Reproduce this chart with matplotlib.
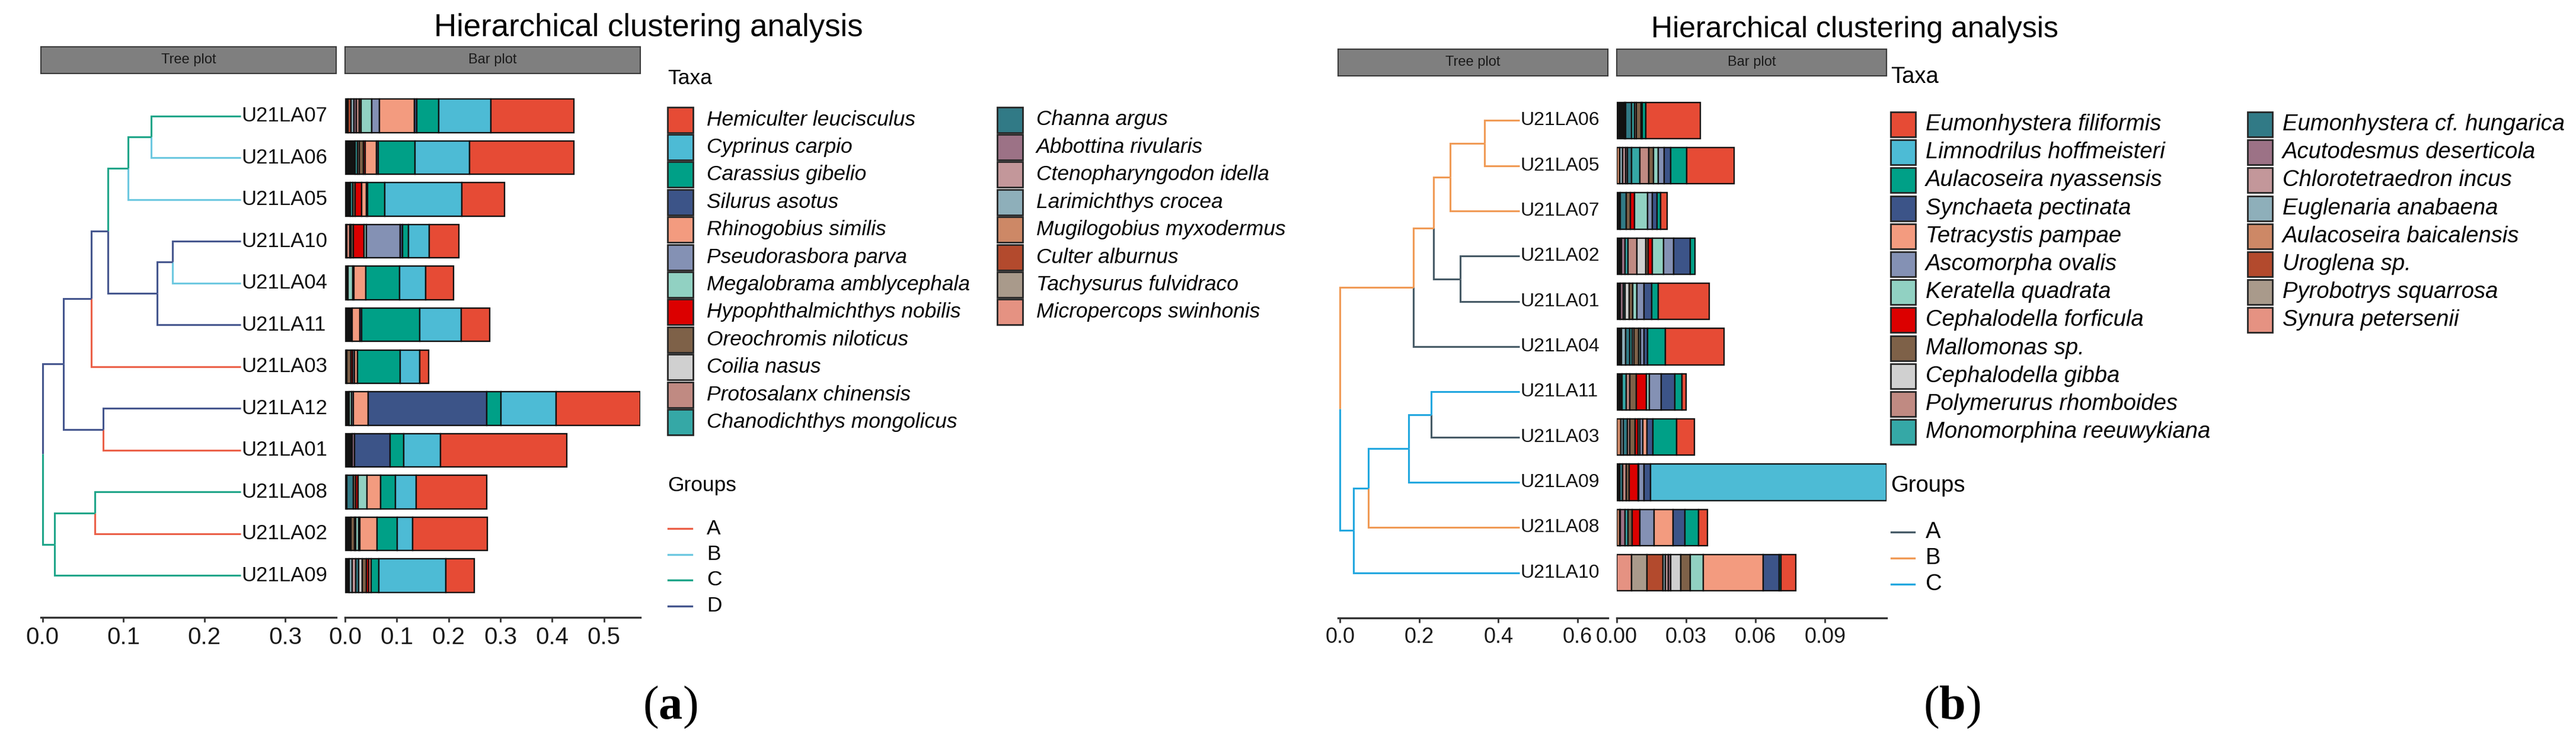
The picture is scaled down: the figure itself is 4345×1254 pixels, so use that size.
"""Hierarchical clustering tree + stacked composition bars, two panels side by side."""

import matplotlib
matplotlib.use("Agg")
import matplotlib.pyplot as plt
from matplotlib.patches import Rectangle
from matplotlib.lines import Line2D
from matplotlib.ticker import FormatStrFormatter

W, H = 4345, 1254
plt.rcParams["font.family"] = ["Liberation Sans", "DejaVu Sans"]
plt.rcParams["mathtext.fontset"] = "custom"
plt.rcParams["mathtext.rm"] = "Liberation Serif"
plt.rcParams["mathtext.bf"] = "Liberation Serif:bold"

# shared fill palette, same order as each panel's legend
palette = ["#E64B35", "#4DBBD5", "#00A087", "#3C5488", "#F39B7F", "#8491B4", "#91D1C2",
           "#DC0000", "#7E6148", "#D0D0D0", "#C08A82", "#35A8A6", "#317A86", "#9C7286",
           "#C3979A", "#8EAFBA", "#CD8866", "#B34A2D", "#A99A8B", "#E59282"]
others_color = "#121212"

# ---------------- panel (a): fish ----------------
a_taxa = ["Hemiculter leucisculus", "Cyprinus carpio", "Carassius gibelio", "Silurus asotus",
          "Rhinogobius similis", "Pseudorasbora parva", "Megalobrama amblycephala",
          "Hypophthalmichthys nobilis", "Oreochromis niloticus", "Coilia nasus",
          "Protosalanx chinensis", "Chanodichthys mongolicus", "Channa argus",
          "Abbottina rivularis", "Ctenopharyngodon idella", "Larimichthys crocea",
          "Mugilogobius myxodermus", "Culter alburnus", "Tachysurus fulvidraco",
          "Micropercops swinhonis"]
a_samples = ["U21LA07", "U21LA06", "U21LA05", "U21LA10", "U21LA04", "U21LA11",
             "U21LA03", "U21LA12", "U21LA01", "U21LA08", "U21LA02", "U21LA09"]
a_groups = ["C", "B", "B", "D", "B", "D", "A", "D", "A", "C", "A", "C"]
a_group_names = ["A", "B", "C", "D"]
a_group_colors = ["#EB6048", "#6DC8E0", "#1FA589", "#45568E"]
# one row per sample: 20 taxa in legend order, then the remaining (others) share
a_abund = [
    [.160, .101, .043, .004, .068, .015, .020, 0, .004, 0, .005, 0, 0, .005, 0, .005, 0, .006, 0, 0, .006],
    [.202, .105, .071, .003, .022, 0, 0, .004, .007, 0, .004, .004, 0, 0, 0, 0, 0, 0, 0, 0, .020],
    [.083, .148, .034, .002, .009, 0, 0, .013, .004, 0, 0, .005, 0, 0, 0, 0, 0, 0, 0, 0, .010],
    [.058, .040, .011, .004, 0, .066, .004, .021, .004, 0, 0, 0, 0, 0, 0, 0, 0, .003, 0, .006, .003],
    [.054, .051, .065, 0, .023, .002, .009, 0, 0, 0, 0, 0, 0, 0, 0, 0, 0, 0, 0, 0, .006],
    [.055, .080, .112, .003, .015, 0, 0, 0, 0, 0, 0, 0, 0, 0, 0, 0, 0, 0, 0, 0, .014],
    [.017, .038, .082, 0, .006, .003, 0, .003, .009, 0, 0, 0, 0, 0, 0, 0, 0, 0, 0, 0, .003],
    [.163, .106, .027, .229, .029, .003, .005, 0, 0, 0, 0, 0, 0, 0, 0, 0, 0, 0, 0, 0, .008],
    [.244, .071, .026, .069, 0, 0, 0, 0, 0, 0, 0, 0, 0, .004, 0, 0, 0, 0, 0, 0, .014],
    [.136, .040, .028, 0, .027, 0, .017, .004, .005, 0, 0, 0, .012, 0, 0, 0, 0, 0, 0, 0, .004],
    [.145, .029, .039, 0, .033, .003, .005, .003, .006, 0, 0, 0, 0, 0, 0, 0, 0, 0, 0, 0, .012],
    [.054, .130, .015, 0, .004, 0, 0, .005, .008, .007, 0, 0, .005, 0, .007, .006, 0, 0, 0, 0, .008],
]
# merges (child, child, distance from root); internal nodes are n0, n1, ...
a_merges = [
    ("U21LA07", "U21LA06", 0.134),
    ("n0", "U21LA05", 0.106),
    ("U21LA10", "U21LA04", 0.161),
    ("n2", "U21LA11", 0.142),
    ("n1", "n3", 0.081),
    ("n4", "U21LA03", 0.060),
    ("U21LA12", "U21LA01", 0.075),
    ("n5", "n6", 0.026),
    ("U21LA08", "U21LA02", 0.065),
    ("n8", "U21LA09", 0.015),
    ("n7", "n9", 0.0),
]
a_leaf_x = 0.245

# ---------------- panel (b): plankton / benthos ----------------
b_taxa = ["Eumonhystera filiformis", "Limnodrilus hoffmeisteri", "Aulacoseira nyassensis",
          "Synchaeta pectinata", "Tetracystis pampae", "Ascomorpha ovalis",
          "Keratella quadrata", "Cephalodella forficula", "Mallomonas sp.",
          "Cephalodella gibba", "Polymerurus rhomboides", "Monomorphina reeuwykiana",
          "Eumonhystera cf. hungarica", "Acutodesmus deserticola", "Chlorotetraedron incus",
          "Euglenaria anabaena", "Aulacoseira baicalensis", "Uroglena sp.",
          "Pyrobotrys squarrosa", "Synura petersenii"]
b_samples = ["U21LA06", "U21LA05", "U21LA07", "U21LA02", "U21LA01", "U21LA04",
             "U21LA11", "U21LA03", "U21LA09", "U21LA08", "U21LA10"]
b_groups = ["B", "B", "B", "A", "A", "A", "C", "A", "C", "B", "C"]
b_group_names = ["A", "B", "C"]
b_group_colors = ["#465A66", "#F09A55", "#22A7DF"]
b_abund = [
    [.0236, 0, .0014, .0007, 0, 0, 0, 0, .0020, 0, .0008, .0013, .0024, .0005, 0, 0, 0, 0, 0, 0, .0034],
    [.0206, 0, .0068, .0029, 0, .0026, .0020, 0, .0020, 0, .0040, .0035, .0019, .0006, .0013, .0012, .0014, 0, 0, 0, 0],
    [.0029, 0, .0017, .0020, 0, .0021, .0056, .0017, .0019, 0, 0, 0, .0024, 0, 0, 0, 0, 0, 0, 0, .0016],
    [0, 0, .0018, .0072, 0, .0044, .0048, .0018, .0012, .0037, .0039, .0014, 0, .0015, 0, 0, 0, 0, 0, 0, .0020],
    [.0220, 0, .0029, .0031, 0, .0033, .0017, 0, .0014, .0018, 0, 0, .0009, .0012, 0, 0, 0, 0, 0, 0, .0016],
    [.0256, 0, .0077, .0015, 0, .0014, .0008, 0, .0020, .0008, 0, .0010, .0018, 0, 0, .0019, 0, 0, 0, 0, .0020],
    [.0020, 0, .0031, .0058, 0, .0052, .0012, .0043, .0029, 0, .0015, .0019, 0, 0, 0, 0, 0, 0, 0, 0, .0022],
    [.0076, 0, .0102, .0027, .0016, .0014, .0008, .0012, .0023, 0, .0010, 0, .0018, 0, 0, .0011, .0018, 0, 0, 0, 0],
    [0, .1021, 0, .0027, 0, .0022, .0005, .0038, .0012, 0, .0015, 0, .0012, 0, 0, 0, 0, 0, 0, 0, .0014],
    [.0040, 0, .0058, .0052, .0082, .0060, 0, .0035, .0017, 0, 0, .0014, 0, .0019, 0, .0004, .0012, 0, 0, 0, 0],
    [.0062, 0, .0008, .0070, .0258, 0, .0058, 0, .0040, .0045, 0, 0, 0, .0008, .0014, .0010, 0, .0070, .0065, .0065, 0],
]
b_merges = [
    ("U21LA06", "U21LA05", 0.365),
    ("n0", "U21LA07", 0.278),
    ("U21LA02", "U21LA01", 0.303),
    ("n1", "n2", 0.236),
    ("n3", "U21LA04", 0.185),
    ("U21LA11", "U21LA03", 0.231),
    ("n5", "U21LA09", 0.174),
    ("n6", "U21LA08", 0.072),
    ("n7", "U21LA10", 0.034),
    ("n4", "n8", 0.0),
]
b_leaf_x = 0.454


def px_axes(fig, left, top, right, bottom):
    return fig.add_axes([left / W, 1 - bottom / H, (right - left) / W, (bottom - top) / H])


def fx(x):
    return x / W


def fy(y):
    return 1 - y / H


def style_axis(ax, fontsize):
    for side in ("left", "top", "right"):
        ax.spines[side].set_visible(False)
    ax.spines["bottom"].set_linewidth(2.4)
    ax.spines["bottom"].set_color("#333333")
    ax.set_yticks([])
    ax.tick_params(axis="x", length=5.5, width=2.0, color="#333333",
                   labelsize=fontsize, labelcolor="#1a1a1a", pad=5)
    ax.set_facecolor("none")


def draw_strip(fig, box, label):
    sa = px_axes(fig, *box)
    sa.set_facecolor("#7f7f7f")
    for sp in sa.spines.values():
        sp.set_color("#3a3a3a")
        sp.set_linewidth(1.5)
    sa.set_xticks([])
    sa.set_yticks([])
    sa.text(0.5, 0.5, label, transform=sa.transAxes, ha="center", va="center",
            fontsize=17, color="#1a1a1a")


def draw_tree(ax, samples, groups, merges, leaf_x, group_names, group_colors, lw, label_size):
    n = len(samples)
    pos, rank = {}, {}
    for i, (s, g) in enumerate(zip(samples, groups)):
        pos[s] = (leaf_x, n - i)
        rank[s] = group_names.index(g)
    for k, (c1, c2, h) in enumerate(merges):
        node = f"n{k}"
        y = (pos[c1][1] + pos[c2][1]) / 2
        pos[node] = (h, y)
        rank[node] = max(rank[c1], rank[c2])
        for c in (c1, c2):
            cx, cy = pos[c]
            ax.plot([h, h, cx], [y, cy, cy], color=group_colors[rank[c]], lw=lw,
                    solid_joinstyle="miter", solid_capstyle="butt")
    for s in samples:
        ax.annotate(s, pos[s], xytext=(1.0, 0), textcoords="offset points",
                    ha="left", va="center", fontsize=label_size, color="#111111")
    ax.set_ylim(0, n + 1)


def draw_bars(ax, samples, abund, colors):
    n = len(samples)
    ys = [n - i for i in range(n)]
    ntax = len(colors)
    order = [ntax] + list(range(ntax - 1, -1, -1))
    left = [0.0] * n
    for j in order:
        col = others_color if j == ntax else colors[j]
        w = [row[j] for row in abund]
        keep = [i for i in range(n) if w[i] > 0]
        if keep:
            ax.barh([ys[i] for i in keep], [w[i] for i in keep], left=[left[i] for i in keep],
                    height=0.8, color=col, edgecolor="#111111", linewidth=1.7)
        left = [l + v for l, v in zip(left, w)]
    ax.set_ylim(0, n + 1)
    ax.set_xlim(0, max(left))


def draw_legend(fig, taxa, colors, x_key, col2_x, text_gap, y_title, y_first, pitch, key,
                group_names, group_colors, y_gtitle, y_gfirst, gpitch, fs):
    fig.text(fx(x_key), fy(y_title), "Taxa", ha="left", va="center", fontsize=fs)
    for k, (name, col) in enumerate(zip(taxa, colors)):
        x0 = x_key if k < 12 else col2_x
        yc = y_first + (k % 12) * pitch
        fig.add_artist(Rectangle((fx(x0), fy(yc + key / 2)), key / W, key / H,
                                 facecolor=col, edgecolor="#262626", lw=2.0,
                                 transform=fig.transFigure))
        fig.text(fx(x0 + key + text_gap), fy(yc), name, ha="left", va="center",
                 fontsize=fs, style="italic")
    fig.text(fx(x_key), fy(y_gtitle), "Groups", ha="left", va="center", fontsize=fs)
    for k, (g, col) in enumerate(zip(group_names, group_colors)):
        yc = y_gfirst + k * gpitch
        fig.add_artist(Line2D([fx(x_key + 1), fx(x_key + key - 2)], [fy(yc), fy(yc)],
                              color=col, lw=2.4, transform=fig.transFigure))
        fig.text(fx(x_key + key + text_gap), fy(yc), g, ha="left", va="center", fontsize=fs)


fig = plt.figure(figsize=(W / 100, H / 100), dpi=100)

# panel (a)
draw_strip(fig, (69, 79, 567, 124), "Tree plot")
draw_strip(fig, (582, 79, 1080, 124), "Bar plot")
ta = px_axes(fig, 69, 125, 567, 1042)
draw_tree(ta, a_samples, a_groups, a_merges, a_leaf_x, a_group_names, a_group_colors, 2.2, 25)
ta.set_xlim(-0.002, 0.363)
ta.set_xticks([0.0, 0.1, 0.2, 0.3])
ta.xaxis.set_major_formatter(FormatStrFormatter("%.1f"))
style_axis(ta, 29)
ba = px_axes(fig, 582, 125, 1080, 1042)
draw_bars(ba, a_samples, a_abund, palette)
ba.set_xticks([0.0, 0.1, 0.2, 0.3, 0.4, 0.5])
ba.xaxis.set_major_formatter(FormatStrFormatter("%.1f"))
style_axis(ba, 29)
draw_legend(fig, a_taxa, palette, 1126, 1682, 23, 132, 202, 46.4, 43,
            a_group_names, a_group_colors, 820, 892, 43.5, 25.5)
fig.text(fx(1094), fy(47), "Hierarchical clustering analysis", ha="center", va="center", fontsize=38)
fig.text(fx(1130), fy(1194), r"($\mathbf{a}$)", ha="center", va="center", fontsize=58,
         family="Liberation Serif")

# panel (b)
draw_strip(fig, (2257, 83, 2712, 128), "Tree plot")
draw_strip(fig, (2727, 83, 3182, 128), "Bar plot")
tb = px_axes(fig, 2257, 127, 2712, 1043)
draw_tree(tb, b_samples, b_groups, b_merges, b_leaf_x, b_group_names, b_group_colors, 2.2, 23)
tb.set_xlim(-0.0048, 0.6765)
tb.set_xticks([0.0, 0.2, 0.4, 0.6])
tb.xaxis.set_major_formatter(FormatStrFormatter("%.1f"))
style_axis(tb, 26)
bb = px_axes(fig, 2727, 127, 3182, 1043)
draw_bars(bb, b_samples, b_abund, palette)
bb.set_xticks([0.0, 0.03, 0.06, 0.09])
bb.xaxis.set_major_formatter(FormatStrFormatter("%.2f"))
style_axis(bb, 26)
draw_legend(fig, b_taxa, palette, 3189, 3791, 17, 130, 210, 47.2, 42,
            b_group_names, b_group_colors, 820, 898, 44, 27.5)
fig.text(fx(3128), fy(50), "Hierarchical clustering analysis", ha="center", va="center", fontsize=36)
fig.text(fx(3292), fy(1194), r"($\mathbf{b}$)", ha="center", va="center", fontsize=58,
         family="Liberation Serif")

fig.savefig("out.png", dpi=100, facecolor="white")
plt.close(fig)
